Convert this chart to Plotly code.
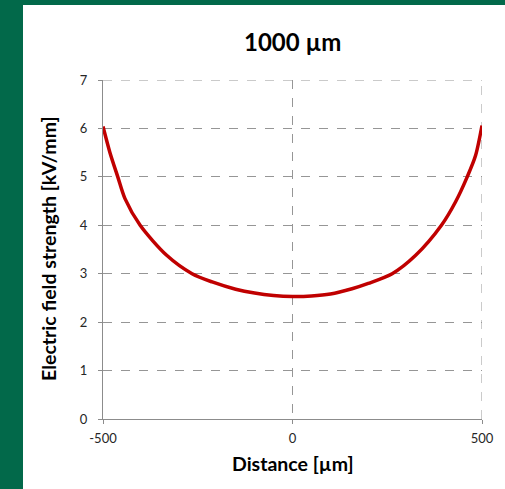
import plotly.graph_objects as go

# Field profile across the 1000 µm gap
distance_um = [-500, -482, -461, -442, -402, -332, -265, -212, -150, -100, -50, 0,
               50, 100, 157, 200, 263, 325, 393, 430, 461, 483, 500]
field_kv_mm = [6.04, 5.51, 5.00, 4.55, 4.00, 3.38, 3.00, 2.83, 2.68, 2.60, 2.55, 2.53,
               2.54, 2.58, 2.69, 2.80, 3.00, 3.38, 4.00, 4.48, 5.00, 5.44, 6.06]

x_ticks = [-500, 0, 500]
x_tick_text = ["-500", "0", "500"]
y_ticks = [0, 1, 2, 3, 4, 5, 6, 7]

W, H = 505, 489
L, R, T, B = 103, 23, 80, 70
pw, ph = W - L - R, H - T - B

def px_to_paper_x(px):
    return (px - L) / pw

def px_to_paper_y(py):
    return (H - B - py) / ph

fig = go.Figure()
fig.add_trace(go.Scatter(
    x=distance_um, y=field_kv_mm, mode="lines",
    line=dict(color="#c00000", width=3.5, shape="spline", smoothing=0.8),
    showlegend=False, hoverinfo="skip",
))

# white card over the green backdrop
fig.add_shape(type="rect", xref="paper", yref="paper", layer="below",
              x0=px_to_paper_x(23), x1=px_to_paper_x(506),
              y0=px_to_paper_y(490), y1=px_to_paper_y(5),
              fillcolor="white", line=dict(width=0))

grid_color = "#969696"
# dashed frame on the top and right edges of the plot area
fig.add_shape(type="line", xref="x", yref="y", x0=-500, x1=500, y0=7, y1=7,
              line=dict(color=grid_color, width=1, dash="dash"), layer="below")
fig.add_shape(type="line", xref="x", yref="y", x0=500, x1=500, y0=0, y1=7,
              line=dict(color=grid_color, width=1, dash="dash"), layer="below")

font_family = "Lato, 'Open Sans', sans-serif"
axis_common = dict(
    showgrid=True, gridcolor=grid_color, gridwidth=1, griddash="dash",
    zeroline=False, showline=True, linecolor="#8c8c8c", linewidth=1,
    ticks="outside", ticklen=4, tickcolor="#8c8c8c", tickwidth=1,
    tickfont=dict(family=font_family, size=13, color="#262626"),
)

fig.update_layout(
    width=W, height=H,
    margin=dict(l=L, r=R, t=T, b=B),
    paper_bgcolor="#02694a", plot_bgcolor="white",
    xaxis=dict(range=[-500, 500], tickvals=x_ticks, ticktext=x_tick_text,
               ticklabelstandoff=3, **axis_common),
    yaxis=dict(range=[0, 7], tickvals=y_ticks, ticklabelstandoff=8, **axis_common),
    annotations=[
        dict(text="<b>1000 µm</b>", xref="paper", yref="paper",
             x=px_to_paper_x(292), y=px_to_paper_y(42),
             xanchor="center", yanchor="middle", showarrow=False,
             font=dict(family=font_family, size=24, color="black")),
        dict(text="<b>Distance [µm]</b>", xref="paper", yref="paper",
             x=px_to_paper_x(293), y=px_to_paper_y(463),
             xanchor="center", yanchor="middle", showarrow=False,
             font=dict(family=font_family, size=19.5, color="black")),
        dict(text="<b>Electric field strength [kV/mm]</b>", xref="paper", yref="paper",
             x=px_to_paper_x(48), y=px_to_paper_y(249), textangle=-90,
             xanchor="center", yanchor="middle", showarrow=False,
             font=dict(family=font_family, size=19.5, color="black")),
    ],
)

fig.write_html("out.html")
